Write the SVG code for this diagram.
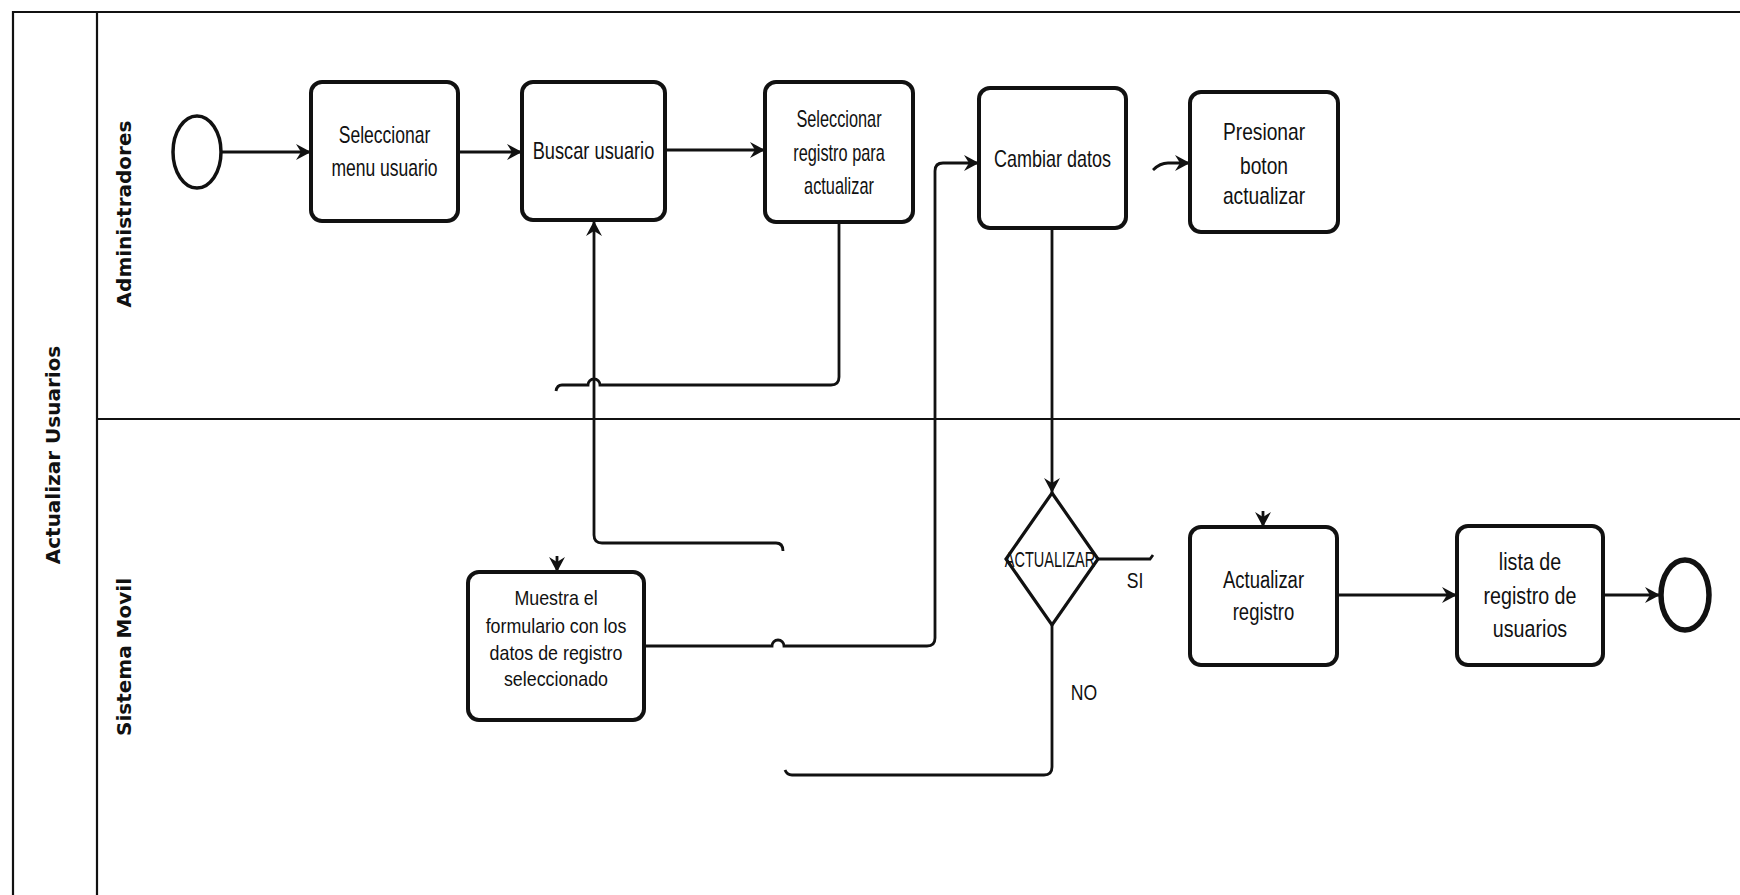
<svg xmlns="http://www.w3.org/2000/svg" width="1740" height="895" viewBox="0 0 1740 895">
<style>
.frame{fill:none;stroke:#111;stroke-width:2.2}
.box{fill:#fff;stroke:#111;stroke-width:4}
.conn{fill:none;stroke:#111;stroke-width:2.8}
.t{font-family:"Liberation Sans",Arial,sans-serif;font-size:24px;fill:#111;text-anchor:middle}
.t6{font-size:21px}
.lbl{font-family:"DejaVu Sans",sans-serif;font-weight:bold;font-size:20px;fill:#111;text-anchor:middle}
</style>
<defs>
<marker id="arr" markerUnits="userSpaceOnUse" markerWidth="16" markerHeight="16" refX="15" refY="8" orient="auto">
<path d="M0,0 L15,8 L0,16 L5,8 z" fill="#111"/>
</marker>
</defs>
<rect width="1740" height="895" fill="#fff"/>
<g id="pool">
<path class="frame" d="M13,895 V12 H1740"/>
<path class="frame" d="M97,12 V895"/>
<path class="frame" d="M97,419 H1740"/>
<text class="lbl" transform="translate(60,455) rotate(-90)">Actualizar Usuarios</text>
<text class="lbl" transform="translate(131,214) rotate(-90)">Administradores</text>
<text class="lbl" transform="translate(131,657) rotate(-90)">Sistema Movil</text>
</g>
<g id="connectors">
<path class="conn" d="M222,152 H311" marker-end="url(#arr)"/>
<path class="conn" d="M458,152 H522" marker-end="url(#arr)"/>
<path class="conn" d="M665,150 H765" marker-end="url(#arr)"/>
<path class="conn" d="M839,222 V377 Q839,385 831,385 H600 A6,6 0 0 0 588,385 H562 Q557,385 556,391"/>
<path class="conn" d="M783,551 Q783,543 776,543 H602 Q594,543 594,535 V221" marker-end="url(#arr)"/>
<path class="conn" d="M644,646 H772 A6,6 0 0 1 784,646 H927 Q935,646 935,638 V171 Q935,163 943,163 H979" marker-end="url(#arr)"/>
<path class="conn" d="M1153,170 Q1160,163 1168,163 H1190" marker-end="url(#arr)"/>
<path class="conn" d="M1052,228 V493" marker-end="url(#arr)"/>
<path class="conn" d="M1098,559 H1150 L1153,555"/>
<path class="conn" d="M1052,625 V767 Q1052,775 1044,775 H792 Q787,775 785,770"/>
<path class="conn" d="M557,556 V572" marker-end="url(#arr)"/>
<path class="conn" d="M1263,511 V527" marker-end="url(#arr)"/>
<path class="conn" d="M1337,595 H1457" marker-end="url(#arr)"/>
<path class="conn" d="M1603,595 H1660" marker-end="url(#arr)"/>
</g>
<g id="start">
<ellipse cx="197" cy="152" rx="24" ry="36" fill="#fff" stroke="#111" stroke-width="3.5"/>
</g>
<g id="n1">
<rect class="box" x="311" y="82" width="147" height="139" rx="11"/>
<text class="t" transform="translate(384.5,0) scale(0.73,1)"><tspan x="0" y="143">Seleccionar</tspan><tspan x="0" y="176">menu usuario</tspan></text>
</g>
<g id="n2">
<rect class="box" x="522" y="82" width="143" height="138" rx="11"/>
<text class="t" transform="translate(593.5,0) scale(0.76,1)"><tspan x="0" y="159">Buscar usuario</tspan></text>
</g>
<g id="n3">
<rect class="box" x="765" y="82" width="148" height="140" rx="11"/>
<text class="t" transform="translate(839,0) scale(0.68,1)"><tspan x="0" y="127">Seleccionar</tspan><tspan x="0" y="161">registro para</tspan><tspan x="0" y="194">actualizar</tspan></text>
</g>
<g id="n4">
<rect class="box" x="979" y="88" width="147" height="140" rx="11"/>
<text class="t" transform="translate(1052.5,0) scale(0.75,1)"><tspan x="0" y="167">Cambiar datos</tspan></text>
</g>
<g id="n5">
<rect class="box" x="1190" y="92" width="148" height="140" rx="11"/>
<text class="t" transform="translate(1264,0) scale(0.8,1)"><tspan x="0" y="140">Presionar</tspan><tspan x="0" y="174">boton</tspan><tspan x="0" y="204">actualizar</tspan></text>
</g>
<g id="n6">
<rect class="box" x="468" y="572" width="176" height="148" rx="11"/>
<text class="t t6" transform="translate(556,0) scale(0.85,1)"><tspan x="0" y="605">Muestra el</tspan><tspan x="0" y="633">formulario con los</tspan><tspan x="0" y="660">datos de registro</tspan><tspan x="0" y="686">seleccionado</tspan></text>
</g>
<g id="d1">
<path d="M1052,493 L1098,559 L1052,625 L1006,559 Z" fill="#fff" stroke="#111" stroke-width="3.2"/>
<text class="t" style="font-size:22px" transform="translate(1050,0) scale(0.66,1)"><tspan x="0" y="567">ACTUALIZAR</tspan></text>
<text class="t" style="font-size:22px" transform="translate(1135,0) scale(0.8,1)"><tspan x="0" y="588">SI</tspan></text>
<text class="t" style="font-size:22px" transform="translate(1084,0) scale(0.8,1)"><tspan x="0" y="700">NO</tspan></text>
</g>
<g id="n7">
<rect class="box" x="1190" y="527" width="147" height="138" rx="11"/>
<text class="t" transform="translate(1263.5,0) scale(0.77,1)"><tspan x="0" y="588">Actualizar</tspan><tspan x="0" y="620">registro</tspan></text>
</g>
<g id="n8">
<rect class="box" x="1457" y="526" width="146" height="139" rx="11"/>
<text class="t" transform="translate(1530,0) scale(0.82,1)"><tspan x="0" y="570">lista de</tspan><tspan x="0" y="604">registro de</tspan><tspan x="0" y="637">usuarios</tspan></text>
</g>
<g id="end">
<ellipse cx="1685" cy="595" rx="24" ry="35" fill="#fff" stroke="#111" stroke-width="5.5"/>
</g>
</svg>
